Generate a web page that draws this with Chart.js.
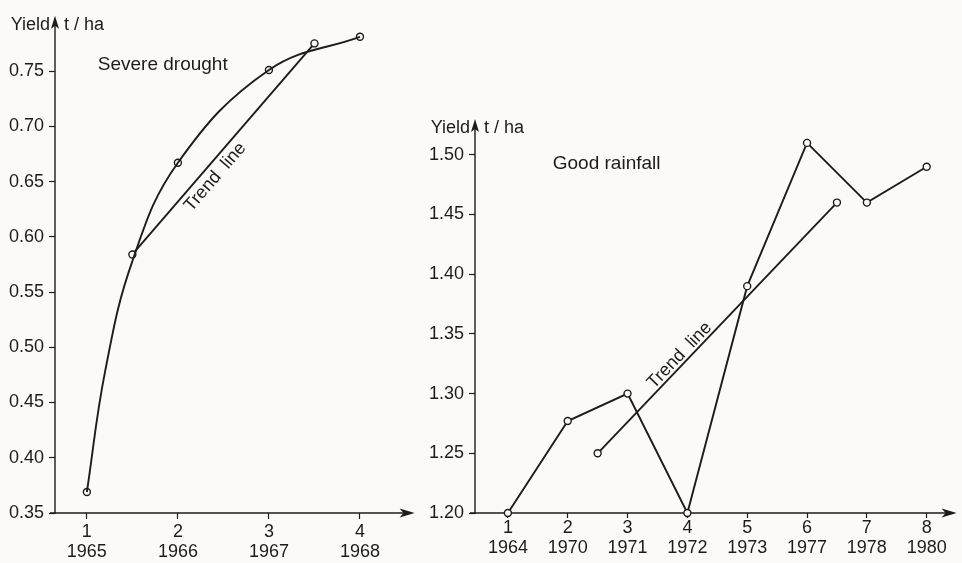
<!DOCTYPE html>
<html>
<head>
<meta charset="utf-8">
<script src="https://cdn.jsdelivr.net/npm/chart.js@4.4.1/dist/chart.umd.min.js"></script>
<style>
  html, body { margin: 0; padding: 0; background: #fbfaf6; }
  #wrap { position: relative; width: 962px; height: 563px; overflow: hidden; }
  #drought { position: absolute; left: 0; top: 0; }
  #rain { position: absolute; left: 420px; top: 0; }
</style>
</head>
<body>
<div id="wrap">
  <canvas id="drought" width="420" height="563"></canvas>
  <canvas id="rain" width="542" height="563"></canvas>
</div>
<script>
// severe drought
const droughtIdx = [1, 2, 3, 4];
const droughtYears = ['1965', '1966', '1967', '1968'];
const droughtYield = [0.369, 0.667, 0.751, 0.781];
// points
const droughtCurveX = [1, 1.2, 1.5, 2, 3, 4];
const droughtCurveY = [0.369, 0.478, 0.578, 0.667, 0.751, 0.781];
const droughtTrendX = [1.5, 3.5];
const droughtTrendY = [0.584, 0.775];
const droughtTicks = [0.35, 0.40, 0.45, 0.50, 0.55, 0.60, 0.65, 0.70, 0.75];

// good rainfall
const rainIdx = [1, 2, 3, 4, 5, 6, 7, 8];
const rainYears = ['1964', '1970', '1971', '1972', '1973', '1977', '1978', '1980'];
const rainYield = [1.20, 1.277, 1.30, 1.20, 1.39, 1.51, 1.46, 1.49];
const rainTrendX = [2.5, 6.5];
const rainTrendY = [1.25, 1.46];
const rainTicks = [1.20, 1.25, 1.30, 1.35, 1.40, 1.45, 1.50];

const ink = '#1c1c1c';
const paper = '#fbfaf6';
const font = 'Liberation Sans';

function pts(xs, ys) {
  return xs.map((x, i) => ({ x: x, y: ys[i] }));
}

function lineSet(data, radius, tension) {
  return {
    data: data,
    showLine: true,
    borderColor: ink,
    borderWidth: 1.9,
    pointRadius: radius,
    pointBackgroundColor: paper,
    pointBorderColor: ink,
    pointBorderWidth: 1.4,
    tension: tension || 0,
    clip: false
  };
}

// axes with arrows, and the texts
function decor(notes) {
  return {
    id: 'decor',
    beforeDatasetsDraw(chart) {
      const { ctx, chartArea: a } = chart;
      ctx.save();
      ctx.strokeStyle = ink;
      ctx.fillStyle = ink;
      ctx.lineWidth = 1.4;
      ctx.beginPath();
      ctx.moveTo(a.left, a.bottom + 1);
      ctx.lineTo(a.left, a.top + 6);
      ctx.moveTo(a.left - 5, a.bottom);
      ctx.lineTo(a.right - 6, a.bottom);
      ctx.stroke();
      // up arrow
      ctx.beginPath();
      ctx.moveTo(a.left, a.top);
      ctx.lineTo(a.left - 4, a.top + 13);
      ctx.lineTo(a.left, a.top + 10);
      ctx.lineTo(a.left + 4, a.top + 13);
      ctx.closePath();
      ctx.fill();
      // right arrow
      ctx.beginPath();
      ctx.moveTo(a.right, a.bottom);
      ctx.lineTo(a.right - 15, a.bottom - 4.5);
      ctx.lineTo(a.right - 11, a.bottom);
      ctx.lineTo(a.right - 15, a.bottom + 4.5);
      ctx.closePath();
      ctx.fill();
      ctx.restore();
    },
    afterDraw(chart) {
      const { ctx, chartArea: a, scales } = chart;
      ctx.save();
      ctx.fillStyle = ink;
      ctx.textBaseline = 'middle';
      ctx.font = '18px "' + font + '"';
      ctx.textAlign = 'right';
      ctx.fillText('Yield', a.left - 5, a.top + 9);
      ctx.textAlign = 'left';
      ctx.fillText('t / ha', a.left + 9, a.top + 9);

      ctx.font = '19px "' + font + '"';
      ctx.fillText(notes.title, scales.x.getPixelForValue(notes.titleAt[0]), scales.y.getPixelForValue(notes.titleAt[1]));

      // trend label along the trend line
      ctx.font = '18px "' + font + '"';
      const tr = chart.getDatasetMeta(notes.trendSet).data;
      const ang = Math.atan2(tr[1].y - tr[0].y, tr[1].x - tr[0].x);
      ctx.translate(scales.x.getPixelForValue(notes.trendAt[0]), scales.y.getPixelForValue(notes.trendAt[1]));
      ctx.rotate(ang);
      ctx.textAlign = 'center';
      ctx.fillText('Trend  line', 0, 0);
      ctx.restore();
    }
  };
}

function makeChart(id, cfg) {
  return new Chart(document.getElementById(id), {
    type: 'scatter',
    data: { datasets: cfg.datasets },
    options: {
      responsive: false,
      animation: false,
      layout: { padding: cfg.padding },
      plugins: { legend: { display: false }, tooltip: { enabled: false } },
      scales: {
        x: {
          type: 'linear',
          min: cfg.xMin,
          max: cfg.xMax,
          border: { display: false },
          grid: { drawOnChartArea: false, drawTicks: true, tickLength: cfg.xTickLen, color: ink, tickWidth: 1.2 },
          afterBuildTicks: s => { s.ticks = cfg.idx.map(v => ({ value: v })); },
          afterFit: s => { s.height = 50; },
          ticks: {
            autoSkip: false,
            maxRotation: 0,
            padding: cfg.xPad,
            color: ink,
            font: { family: font, size: 18, lineHeight: 1.13 },
            callback: v => [String(v), cfg.years[v - 1]]
          }
        },
        y: {
          min: cfg.yMin,
          max: cfg.yMax,
          border: { display: false },
          grid: { drawOnChartArea: false, drawTicks: true, tickLength: 6, color: ink, tickWidth: 1.2 },
          afterBuildTicks: s => { s.ticks = cfg.yTicks.map(v => ({ value: v })); },
          afterFit: s => { s.width = 55; },
          ticks: {
            padding: 5,
            color: ink,
            font: { family: font, size: 18 },
            callback: v => v.toFixed(2)
          }
        }
      }
    },
    plugins: [decor(cfg.notes)]
  });
}

makeChart('drought', {
  datasets: [
    lineSet(pts(droughtCurveX, droughtCurveY), 0, 0.4),
    lineSet(pts(droughtTrendX, droughtTrendY), 3.5),
    Object.assign(lineSet(pts(droughtIdx, droughtYield), 3.5), { showLine: false })
  ],
  padding: { top: 13, right: 2, left: 0, bottom: 0 },
  xMin: 0.65, xMax: 4.6, yMin: 0.35, yMax: 0.8,
  idx: droughtIdx, years: droughtYears, yTicks: droughtTicks,
  xTickLen: 6, xPad: 3,
  notes: { title: 'Severe drought', titleAt: [1.12, 0.756], trendSet: 1, trendAt: [2.41, 0.654] }
});

makeChart('rain', {
  datasets: [
    lineSet(pts(rainIdx, rainYield), 3.5),
    lineSet(pts(rainTrendX, rainTrendY), 3.5)
  ],
  padding: { top: 119, right: 5, left: 0, bottom: 0 },
  xMin: 0.45, xMax: 8.5, yMin: 1.20, yMax: 1.53,
  idx: rainIdx, years: rainYears, yTicks: rainTicks,
  xTickLen: 5, xPad: 0,
  notes: { title: 'Good rainfall', titleAt: [1.75, 1.4925], trendSet: 1, trendAt: [3.87, 1.332] }
});
</script>
</body>
</html>
